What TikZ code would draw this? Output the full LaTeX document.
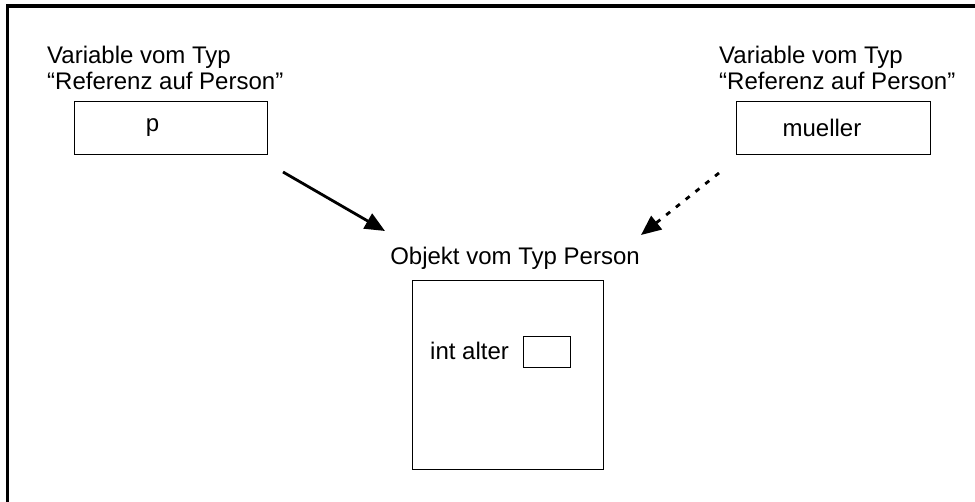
\documentclass[tikz,border=0pt]{standalone}
\usepackage{fontspec}
\setmainfont{Liberation Sans}
\usetikzlibrary{arrows.meta}

\begin{document}
\begin{tikzpicture}[x=1pt, y=-1pt,
  every node/.style={font=\fontsize{24}{26}\selectfont, inner sep=0pt},
  box/.style={draw, line width=1pt},
  vartype/.style={anchor=north west, align=left},
  ref/.style={line width=2.8pt, -{Triangle[length=20pt, width=17pt]}}]
\useasboundingbox (0, 0) rectangle (975, 502);
\draw [line width=3.5pt] (7.5, 530) -- (7.5, 6) -- (1000, 6);

\node [vartype] (ptype) at (47, 46) {Variable vom Typ\\“Referenz auf Person”};
\node [box, minimum width=193pt, minimum height=52.3pt,
       label={[xshift=-18pt]center:p}] (p) at (170.5, 127.9) {};
\node [vartype] (mtype) at (719, 46) {Variable vom Typ\\“Referenz auf Person”};
\node [box, minimum width=194pt, minimum height=52.3pt,
       label={[xshift=-11pt]center:mueller}] (mueller) at (833, 127.9) {};

%%%%%%%%%%%%%%%%%%%%%%%%%%%%%%%%%%%%%%%%

\node [anchor=base] (objtype) at (515, 265) {Objekt vom Typ Person};
\node [box, minimum width=191pt, minimum height=189.3pt] (person) at (507.8, 374.7) {};
\node [anchor=base west] (alter) at (430, 360) {int alter};
\node [box, minimum width=46.7pt, minimum height=30.6pt] (alterval) at (546.7, 352) {};

\path (283, 172) coordinate (pfrom) (385, 231) coordinate (pto);
\draw [ref] (pfrom) -- (pto);
\path (719, 173) coordinate (mfrom) (641, 235) coordinate (mto);
\draw [ref, dash pattern=on 5pt off 7.5pt] (mfrom) -- (mto);

\end{tikzpicture}
\end{document}
